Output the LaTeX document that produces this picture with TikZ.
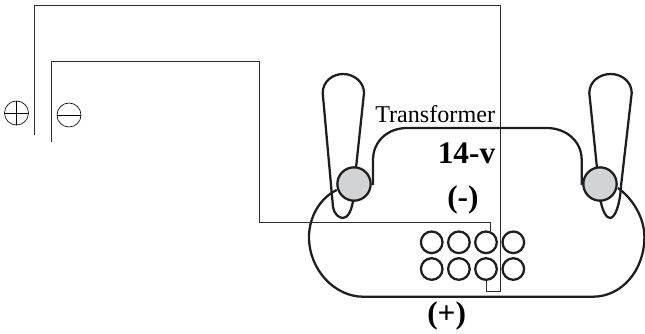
\documentclass[tikz,border=0pt]{standalone}
\usepackage{fontspec}
\setmainfont{Liberation Serif}
\definecolor{luggray}{RGB}{209,211,212}
\tikzset{
  wire/.style={line width=0.75pt,color={rgb,255:red,45;green,45;blue,45}},
  outline/.style={line width=1.7pt,color={rgb,255:red,30;green,30;blue,30}},
  lug/.style={circle,draw,outline,fill=luggray,minimum size=25pt,inner sep=0pt},
  hole/.style={circle,draw,outline,minimum size=16.2pt,inner sep=0pt},
  sign/.style={circle,draw,line width=0.5pt,minimum size=18pt,inner sep=0pt},
  boldlabel/.style={anchor=north west,inner sep=0.75pt,font=\fontsize{23.5}{23.5}\selectfont\bfseries}
}
\begin{document}
\begin{tikzpicture}[x=0.75pt,y=0.75pt,yscale=-1,xscale=1]
\useasboundingbox (0,0) rectangle (645,333);

%Shape: Left handle
\draw [outline] (356,168) -- (364,93) .. controls (364,82) and (354,74) .. (343,74) .. controls (332,74) and (322.7,82) .. (322.7,93) -- (333,207) .. controls (334,214) and (339,218) .. (343,218) .. controls (348,218) and (352,210) .. (353.5,198) ;
%Shape: Right handle
\draw [outline] (597,168) -- (589.3,93) .. controls (589.3,82) and (599,74) .. (610.7,74) .. controls (622,74) and (631.7,82) .. (631.7,93) -- (621,186) .. controls (620,205) and (615,218) .. (610,218) .. controls (606,218) and (602,210) .. (600,198) ;
%Shape: Body
\draw [outline] (336.7,190) .. controls (320,198) and (309,217) .. (309,237) .. controls (309,270) and (335,296.7) .. (363,296.7) -- (593,296.7) .. controls (622,296.7) and (644.4,270) .. (644.4,237) .. controls (644.4,217) and (632,198) .. (618,188) ;

%Shape: Lugs
\node [lug] (lugleft) at (354,184) {};
\node [lug] (lugright) at (600,184) {};

%Shape: Holes
\node [hole] (holeA1) at (431.7,242.3) {};
\node [hole] (holeB1) at (458.9,242.3) {};
\node [hole] (holeC1) at (486,242.3) {};
\node [hole] (holeD1) at (513.3,242.3) {};
\node [hole] (holeA2) at (431.7,269) {};
\node [hole] (holeB2) at (458.9,269) {};
\node [hole] (holeC2) at (486,269) {};
\node [hole] (holeD2) at (513.3,269) {};

%Straight Lines: transformer winding
\draw [outline] (lugleft.east) -- (373,184) -- (373,160) .. controls (373,141) and (388,128) .. (407,128) -- (546.7,128) .. controls (566,128) and (581.7,141) .. (581.7,160) -- (581.7,184) -- (lugright.west) ;

%Straight Lines: supply wires
\coordinate (plustip) at (34,135);
\coordinate (minustip) at (51,142);
\draw [wire] (plustip) |- (500,5) -- (500,291) -| (holeC2.south) ;
\draw [wire] (minustip) |- (259,61) |- (289,222.7) -| (holeC1.70) ;

%Shape: Signs
\node [sign] (plussign) at (16.5,113) {};
\node [sign] (minussign) at (69,115) {};
\draw [line width=0.5pt] (plussign.west) -- (plussign.east) ;
\draw [line width=0.5pt] (plussign.north) -- (plussign.south) ;
\draw [line width=0.5pt] (minussign.west) -- (minussign.east) ;

% Text Node
\node [anchor=north west,inner sep=0.75pt,font=\fontsize{18.1}{18.1}\selectfont] (transformerlabel) at (374,104) {Transformer};
% Text Node
\node [boldlabel] (voltlabel) at (436.5,142) {14-v};
% Text Node
\node [boldlabel] (minuslabel) at (446,184) {(-)};
% Text Node
\node [boldlabel] (pluslabel) at (426,300) {(+)};
\end{tikzpicture}
\end{document}
